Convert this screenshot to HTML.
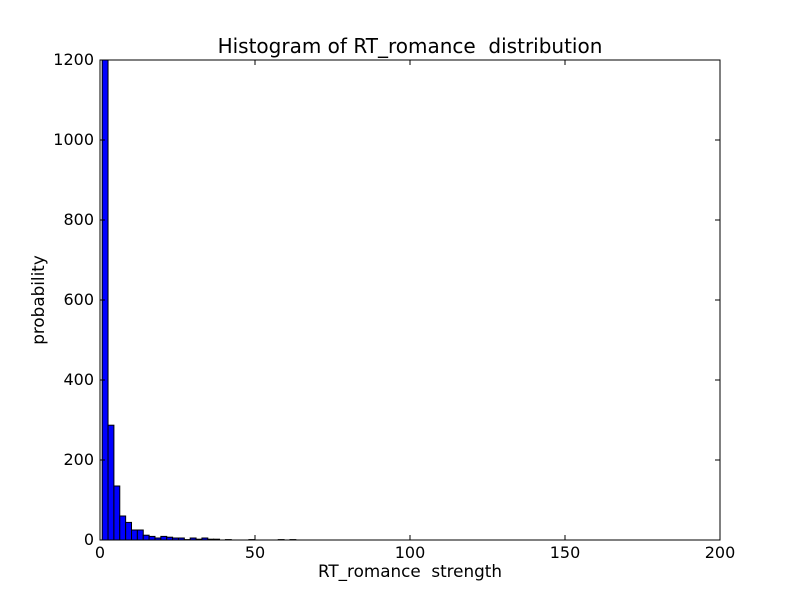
<!DOCTYPE html>
<html><head><meta charset="utf-8"><style>
body{margin:0;background:#fff;width:800px;height:600px;overflow:hidden;font-family:"Liberation Sans","DejaVu Sans",sans-serif;}
svg text{font-family:"DejaVu Sans","Liberation Sans",sans-serif;white-space:pre;}
</style></head><body>
<svg id="chart" width="800" height="600">
<rect x="0" y="0" width="800" height="600" fill="#fff"/>
<g id="bars"></g>
<rect x="100" y="60" width="620" height="480" fill="none" stroke="#000" stroke-width="1"/>
<g id="axes"></g>
<text x="410" y="53" font-size="20" text-anchor="middle" xml:space="preserve">Histogram of RT_romance  distribution</text>
<text x="410" y="577" font-size="16.8" text-anchor="middle" xml:space="preserve">RT_romance  strength</text>
<text x="44" y="300" font-size="16.8" text-anchor="middle" transform="rotate(-90 44 300)">probability</text>
</svg>
<script>
const binStart = 0.7;
const binWidth = 1.893;
const counts = [1500,287,135,60,44,25,25,12,9,5,9,7,5,5,1,5,2,5,2,2,0,1,0,0,0,1,0,0,0,0,1,0,1,0,0,0,0,0,0,0,0,0,0,0,0,0,0,0,0,0,0,0,0,0,0,0,0,0,0,0,0,0,0,0,0,0,0,0,0,0,0,0,0,0,0,0,0,0,0,0,0,0,0,0,0,0,0,0,0,0,0,0,0,0,0,0,0,0,0,0];
const xTicks = [0,50,100,150,200];
const yTicks = [0,200,400,600,800,1000,1200];
const X = v => 100 + v * 620 / 200;
const Y = v => 540 - Math.min(v,1200) * 480 / 1200;
const NS = "http://www.w3.org/2000/svg";
const bars = document.getElementById('bars');
counts.forEach((c,i)=>{
  const r = document.createElementNS(NS,'rect');
  const x0 = X(binStart + i*binWidth), x1 = X(binStart + (i+1)*binWidth);
  r.setAttribute('x', x0); r.setAttribute('width', x1-x0);
  r.setAttribute('y', Y(c)); r.setAttribute('height', 540 - Y(c));
  r.setAttribute('fill', '#0000ff'); r.setAttribute('stroke', '#000'); r.setAttribute('stroke-width', '1');
  
  
  bars.appendChild(r);
});
const axes = document.getElementById('axes');
function line(x1,y1,x2,y2){const l=document.createElementNS(NS,'line');l.setAttribute('x1',x1);l.setAttribute('y1',y1);l.setAttribute('x2',x2);l.setAttribute('y2',y2);l.setAttribute('stroke','#000');


axes.appendChild(l);}
function text(x,y,s,anchor){const t=document.createElementNS(NS,'text');t.setAttribute('x',x);t.setAttribute('y',y);t.setAttribute('font-size','16');t.setAttribute('text-anchor',anchor);t.textContent=s;


axes.appendChild(t);}
xTicks.forEach(v=>{const x=X(v);line(x,540,x,535);line(x,60,x,65);text(x,558,String(v),'middle');});
yTicks.forEach(v=>{const y=Y(v);line(100,y,105,y);line(720,y,715,y);text(94,y+5,String(v),'end');});
</script>
</body></html>
